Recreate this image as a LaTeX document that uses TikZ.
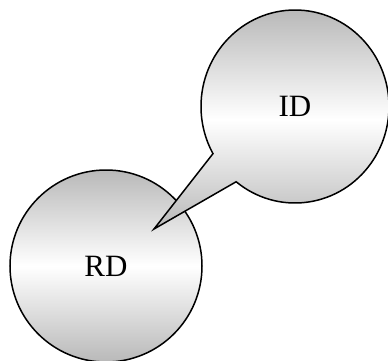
\documentclass[tikz,border=0pt]{standalone}
\usepackage{fontspec}
\setmainfont{Liberation Serif}
\usetikzlibrary{shapes.callouts}

\begin{document}
\begin{tikzpicture}[x=1pt,y=1pt,
    bubble/.style={draw,line width=1.5pt,inner sep=0pt,
      shading=axis,top color=gray!55,bottom color=gray!55,middle color=white,
      font=\fontsize{31}{37}\selectfont}]
      \useasboundingbox (0,0) rectangle (388,360);
      % lower circle first, the tail of the callout lies over it
      \node[bubble,circle,minimum size=192pt] (rd) at (106,94) {RD};
      \coordinate (tip) at (154,131);
      \node[bubble,ellipse callout,minimum width=188pt,minimum height=193pt,
      callout absolute pointer={(tip)},callout pointer arc=22]
      (id) at (295,253.5) {ID};
    \end{tikzpicture}
\end{document}
